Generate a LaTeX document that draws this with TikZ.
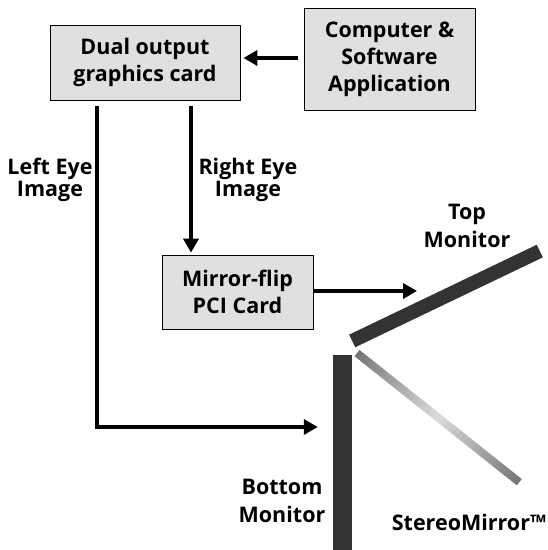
\documentclass[tikz,border=0pt]{standalone}
\usepackage{fontspec}
\setmainfont{Open Sans}
\usetikzlibrary{arrows.meta}
\begin{document}
\begin{tikzpicture}[x=1pt,y=-1pt,
  box/.style={draw=black,line width=0.8pt,fill=black!12,align=center,inner sep=0pt,font=\bfseries\fontsize{21.5}{27}\selectfont},
  lbl/.style={align=center,inner sep=0pt,font=\bfseries\fontsize{21.5}{20}\selectfont},
  wlbl/.style={lbl,font=\bfseries\fontsize{21.5}{28}\selectfont},
  conn/.style={line width=4.8pt,-{Triangle[length=14pt,width=15pt]}},
  monitor/.style={fill=black!80,draw=none,inner sep=0pt}]
\useasboundingbox (0,0) rectangle (548,550);
\node[box,minimum width=190pt,minimum height=75pt] (dual) at (145,62.5) {Dual output\\graphics card};
\node[box,minimum width=171pt,minimum height=102pt] (comp) at (389.5,59) {Computer \&\\Software\\Application};
\node[box,minimum width=151pt,minimum height=74pt] (flip) at (237.5,292) {Mirror-flip\\PCI Card};
\node[monitor,minimum width=208pt,minimum height=14pt,rotate=25.6] (top) at (446,296) {};
\node[monitor,minimum width=19pt,minimum height=195pt] (bottom) at (342.5,452.5) {};
\begin{scope}[shift={(438,417.5)},rotate=-38.5]
\foreach \i in {0,...,39}{
  \pgfmathsetmacro{\p}{14+40*abs(2*(\i+0.5)/40-1)}
  \pgfmathsetmacro{\xa}{-103.5+207*\i/40}
  \pgfmathsetmacro{\xb}{-103.5+207*(\i+1)/40+0.4}
  \fill[black!\p] (\xa,-4) rectangle (\xb,4);
}
\end{scope}
\node[lbl] (lefteye) at (50,180) {Left Eye\\Image};
\node[lbl] (righteye) at (248,180) {Right Eye\\Image};
\node[wlbl] (toplbl) at (467,226) {Top\\Monitor};
\node[wlbl] (botlbl) at (282,501) {Bottom\\Monitor};
\node[lbl] (mirlbl) at (469,522) {StereoMirror™};
\coordinate (corner) at (97,427);
\coordinate (topin) at (417,291);
\draw[conn,shorten <=6pt,shorten >=3pt] (comp.west |- 0,58) -- (dual.east |- 0,58);
\draw[conn,shorten >=2pt] ([yshift=-6pt]dual.south -| 191,0) -- (flip.north -| 191,0);
\draw[conn] (flip.east |- topin) -- (topin);
\draw[conn,shorten >=15pt] ([yshift=-6pt]dual.south -| 97,0) -- (corner) -- (bottom.west |- corner);
\end{tikzpicture}
\end{document}
